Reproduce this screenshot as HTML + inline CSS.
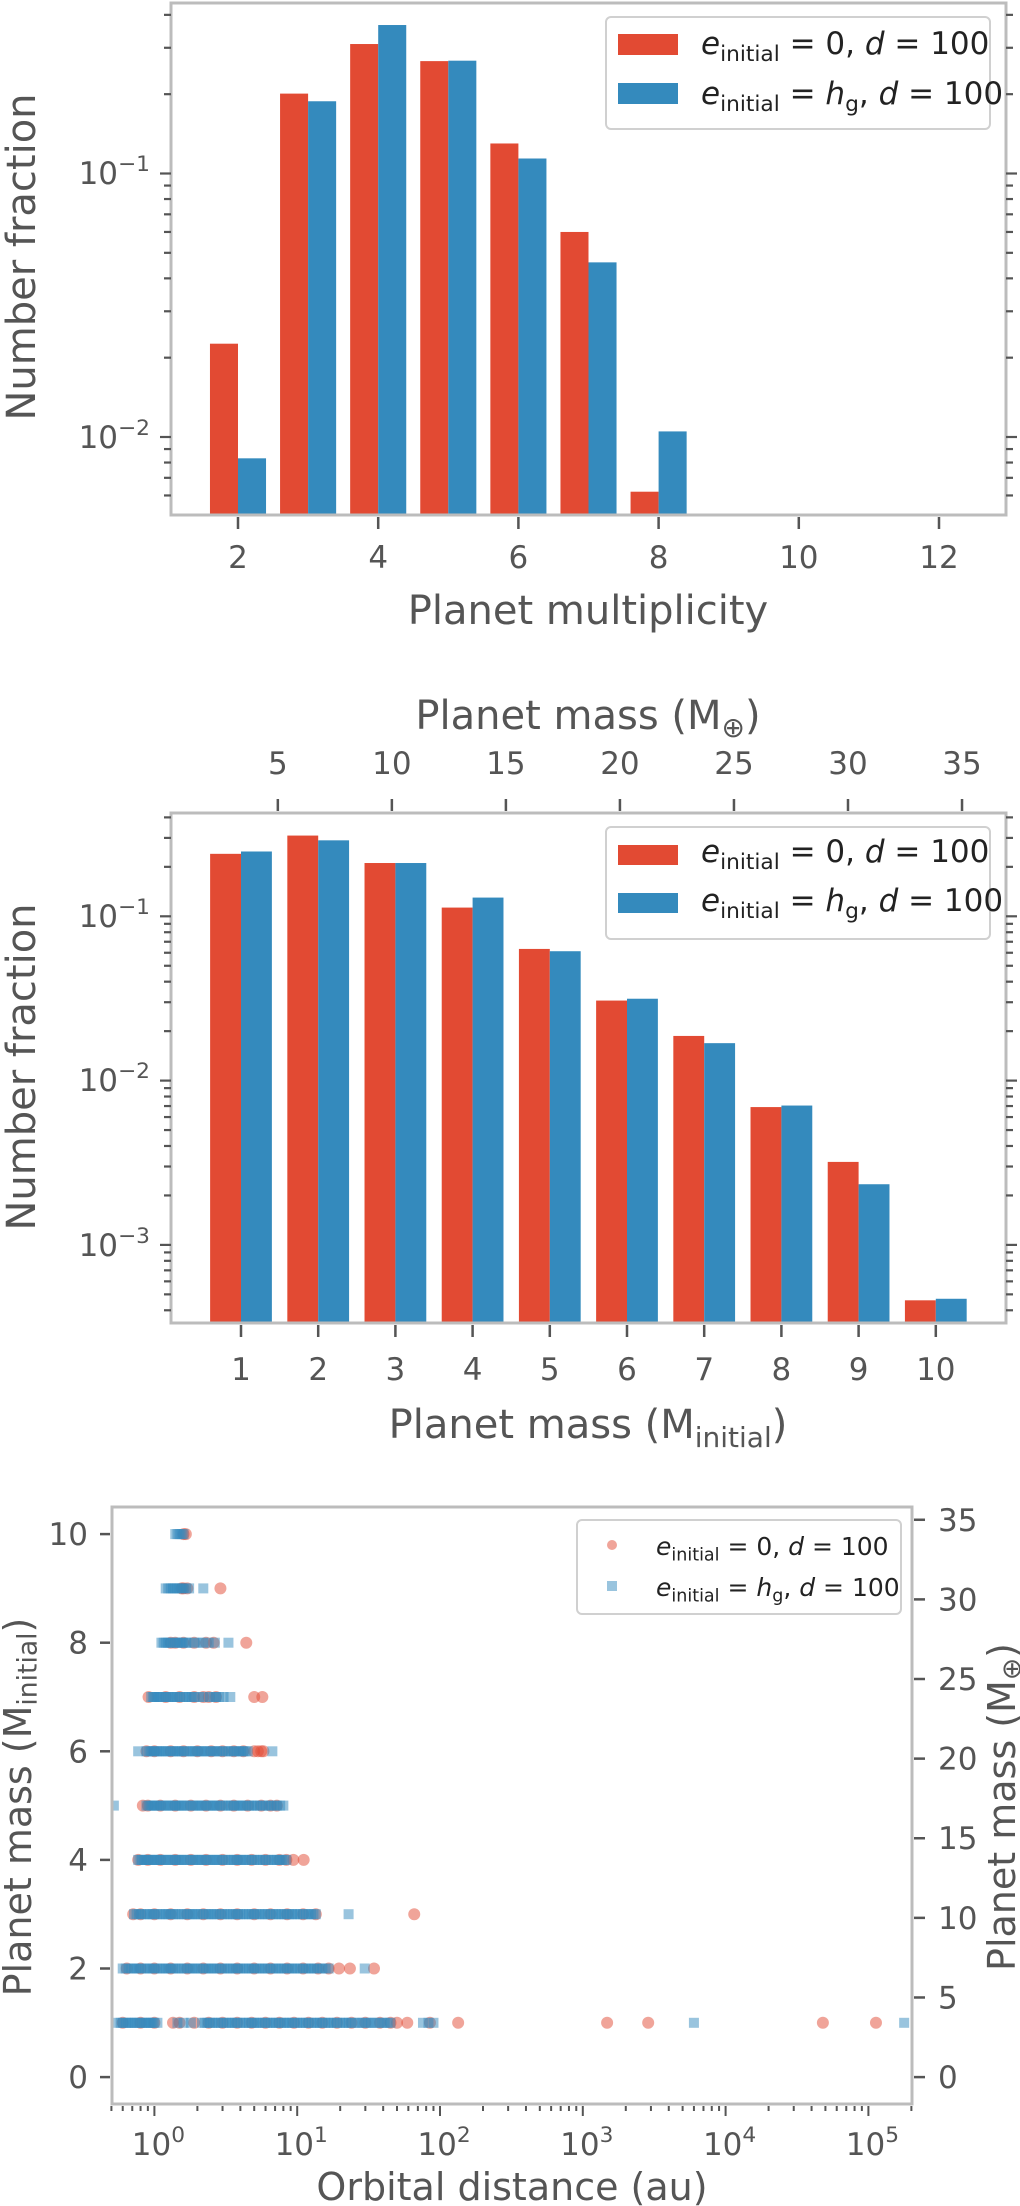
<!DOCTYPE html>
<html><head><meta charset="utf-8">
<style>
html,body{margin:0;padding:0;background:#fff;}
svg{display:block;font-family:"DejaVu Sans","Liberation Sans",sans-serif;}
</style></head>
<body>
<svg id="fig" width="1020" height="2206" viewBox="0 0 1020 2206" xmlns="http://www.w3.org/2000/svg"></svg>
<script>
// ---------- Panel 1 data ----------
const multCats = [2,3,4,5,6,7,8];
const multRed  = [0.0226,0.201,0.310,0.267,0.130,0.060,0.0062];
const multBlue = [0.0083,0.188,0.366,0.268,0.114,0.046,0.0105];
const multTicks = [2,4,6,8,10,12];
// ---------- Panel 2 data ----------
const massCats = [1,2,3,4,5,6,7,8,9,10];
const massRed  = [0.240,0.310,0.211,0.113,0.0633,0.0307,0.0187,0.0069,0.0032,0.00046];
const massBlue = [0.248,0.290,0.211,0.130,0.0613,0.0315,0.0169,0.00705,0.00234,0.00047];
const earthTicks = [5,10,15,20,25,30,35];
const earthPerInitial = 3.385;
// ---------- Panel 3 data (orbital distance in au per mass row) ----------
const scatMass = [10,9,8,7,6,5,4,3,2,1];
const scatRed = [
 [1.6,1.66],
 [1.55,1.6,1.7,2.9],
 [1.3,1.4,1.6,1.9,2.3,2.6,4.4],
 [0.91,1.2,1.5,1.9,2.2,2.4,2.7,5.0,5.7],
 [0.88,1.0,1.3,1.6,2.0,2.5,3.0,3.6,4.2,5.0,5.3,5.6,5.8],
 [0.83,0.9,1.1,1.4,1.8,2.3,2.9,3.6,4.5,5.6,6.5,7.2],
 [0.77,0.9,1.1,1.4,1.8,2.3,3.0,3.8,4.8,6.0,7.5,8.4,9.4,11.1],
 [0.71,0.8,1.0,1.3,1.7,2.2,2.9,3.8,5.0,6.5,8.5,11,13.5,66],
 [0.64,0.8,1.0,1.3,1.7,2.2,2.9,3.8,5.0,6.5,8.5,11,14,16.6,19.6,23.4,34.5],
 [0.6,0.8,1.0,1.35,1.5,1.9,2.4,3.0,3.8,4.8,6.0,7.5,9.5,12,15,19,24,30,38,45,50,59,85,134,1480,2870,48000,113000]
];
const scatBlue = [
 [1.4,1.45,1.5,1.55,1.6],
 [1.2,1.25,1.3,1.35,1.4,1.45,1.5,1.55,1.6,1.67,1.75,2.2],
 [1.12,1.16,1.2,1.25,1.3,1.35,1.4,1.45,1.5,1.55,1.6,1.67,1.75,1.9,2.05,2.2,2.4,2.65,3.3],
 [0.95,0.98,1.0,1.04,1.07,1.11,1.15,1.2,1.25,1.3,1.35,1.4,1.45,1.52,1.6,1.67,1.75,1.82,1.9,2.05,2.2,2.45,2.6,2.7,2.85,3.05,3.4],
 [0.77,0.88,0.91,0.94,0.97,1.0,1.04,1.07,1.11,1.15,1.2,1.25,1.3,1.35,1.4,1.45,1.5,1.55,1.62,1.7,1.77,1.85,1.92,2.0,2.08,2.15,2.25,2.35,2.45,2.55,2.65,2.75,2.87,3.0,3.15,3.3,3.45,3.6,3.75,3.9,4.05,4.2,4.35,4.5,6.7],
 [0.52,0.88,0.91,0.94,0.97,1.0,1.04,1.07,1.11,1.15,1.2,1.25,1.3,1.35,1.4,1.45,1.5,1.55,1.62,1.7,1.77,1.85,1.92,2.0,2.08,2.15,2.25,2.35,2.45,2.55,2.65,2.75,2.87,3.0,3.15,3.3,3.45,3.6,3.75,3.9,4.05,4.2,4.4,4.6,4.8,5.0,5.25,5.5,5.75,6.0,6.3,6.6,6.9,7.2,7.6,8.0],
 [0.77,0.8,0.82,0.85,0.88,0.91,0.94,0.97,1.0,1.04,1.07,1.11,1.15,1.2,1.25,1.3,1.35,1.4,1.45,1.5,1.55,1.62,1.7,1.77,1.85,1.92,2.0,2.08,2.15,2.25,2.35,2.45,2.55,2.65,2.75,2.87,3.0,3.15,3.3,3.45,3.6,3.75,3.9,4.05,4.2,4.4,4.6,4.8,5.0,5.25,5.5,5.75,6.0,6.3,6.6,6.9,7.2,7.5,7.8,8.1,8.4],
 [0.72,0.75,0.78,0.81,0.85,0.89,0.93,0.97,1.0,1.05,1.1,1.15,1.2,1.25,1.3,1.35,1.4,1.47,1.55,1.62,1.7,1.77,1.85,1.92,2.0,2.1,2.2,2.3,2.4,2.5,2.6,2.72,2.85,2.97,3.1,3.25,3.4,3.55,3.7,3.85,4.0,4.2,4.4,4.6,4.8,5.0,5.2,5.45,5.7,5.95,6.2,6.5,6.8,7.1,7.4,7.75,8.1,8.45,8.8,9.2,9.6,10.0,10.5,11.0,11.5,12.0,12.5,13.0,13.5,22.9],
 [0.6,0.63,0.66,0.69,0.72,0.75,0.78,0.81,0.85,0.89,0.93,0.97,1.0,1.05,1.1,1.15,1.2,1.25,1.3,1.35,1.4,1.47,1.55,1.62,1.7,1.77,1.85,1.92,2.0,2.1,2.2,2.3,2.4,2.5,2.6,2.72,2.85,2.97,3.1,3.25,3.4,3.55,3.7,3.85,4.0,4.2,4.4,4.6,4.8,5.0,5.2,5.45,5.7,5.95,6.2,6.5,6.8,7.1,7.4,7.75,8.1,8.45,8.8,9.2,9.6,10.0,10.5,11.0,11.5,12.0,12.5,13.1,13.7,14.3,15.0,15.8,16.6,29.7],
 [0.55,0.58,0.6,0.63,0.65,0.68,0.7,0.73,0.76,0.79,0.82,0.85,0.88,0.91,0.94,0.97,1.0,1.05,1.45,1.6,1.8,2.15,2.25,2.35,2.45,2.55,2.67,2.8,2.92,3.05,3.2,3.35,3.5,3.65,3.8,4.0,4.2,4.4,4.6,4.8,5.0,5.2,5.45,5.7,5.95,6.2,6.5,6.8,7.1,7.4,7.75,8.1,8.45,8.8,9.2,9.6,10.0,10.5,11.0,11.5,12.0,12.6,13.2,13.8,14.4,15.0,15.7,16.5,17.2,18.0,19.0,20.0,21.0,22.0,23.0,24.0,25.5,27.0,28.5,30.0,31.5,33.0,35.0,37.0,39.0,41.0,43.0,45.0,76,83,90,6000,178000]
];
const distTickExps = [0,1,2,3,4,5];
const leftMassTicks = [0,2,4,6,8,10];
const rightEarthTicks = [0,5,10,15,20,25,30,35];

const NS="http://www.w3.org/2000/svg";
const svg=document.getElementById('fig');
const RED='#E24A33', BLUE='#348ABD', TXT='#555555', FRAME='#bcbcbc';
function mk(tag, attrs, parent){const e=document.createElementNS(NS,tag);for(const k in attrs)e.setAttribute(k,attrs[k]);(parent||svg).appendChild(e);return e;}
function line(x1,y1,x2,y2,w,c,p){return mk('line',{x1,y1,x2,y2,stroke:c||TXT,'stroke-width':w||2.5},p);}
function txt(s,x,y,size,anchor,p){const t=mk('text',{x,y,'font-size':size,fill:TXT,'text-anchor':anchor||'middle'},p);t.textContent=s;return t;}
function pow10(x,y,exp,size,anchor,p){const t=mk('text',{x,y,'font-size':size,fill:TXT,'text-anchor':anchor||'end'},p);
 const a=mk('tspan',{},t);a.textContent='10';const b=mk('tspan',{'font-size':size*0.7,dy:-size*0.42},t);b.textContent=exp;return t;}
function legendLabel(x,y,size,second,p){
 const t=mk('text',{x,y,'font-size':size,fill:'#222'},p);
 const e=mk('tspan',{'font-style':'italic'},t);e.textContent='e';
 const s=mk('tspan',{'font-size':size*0.7,dy:size*0.22},t);s.textContent='initial';
 const r=mk('tspan',{dy:-size*0.22},t);
 if(!second){r.textContent=' = 0, ';}else{r.textContent=' = ';const h=mk('tspan',{'font-style':'italic'},t);h.textContent='h';const g=mk('tspan',{'font-size':size*0.7,dy:size*0.22},t);g.textContent='g';const c=mk('tspan',{dy:-size*0.22},t);c.textContent=', ';}
 const d=mk('tspan',{'font-style':'italic'},t);d.textContent='d';
 const q=mk('tspan',{},t);q.textContent=' = 100';return t;}
function rotLabel(parts,cx,cy,size,p){const t=mk('text',{x:0,y:0,'font-size':size,fill:TXT,'text-anchor':'middle','dominant-baseline':'central',transform:`translate(${cx},${cy}) rotate(-90)`},p);
 parts.forEach(pt=>{const s=mk('tspan',pt.sub?{'font-size':size*0.7,dy:size*0.25}:(pt.up?{dy:-size*0.25}:{}),t);s.textContent=pt.t;});return t;}
function logTicksY(ys,x0,x1,lo,hi){
 for(let e=Math.floor(Math.log10(lo));e<=Math.ceil(Math.log10(hi));e++){
  for(let m=1;m<10;m++){const v=m*Math.pow(10,e);if(v<lo||v>hi)continue;const y=ys(v);const L=m===1?11:7;
   line(x0-L,y,x0,y,2.2);line(x1,y,x1+L,y,2.2);}}
}

// ================= Panel 1 =================
(function(){
 const g=mk('g',{});
 
 const L=171,R=1006,T=3,B=515;
 const xs=v=>238+(v-2)*70.1;
 const ys=v=>173.5-(Math.log10(v)+1)*263.5;
 multCats.forEach((c,i)=>{
  const r=mk('rect',{x:xs(c-0.4),y:ys(multRed[i]),width:xs(c)-xs(c-0.4),height:B-ys(multRed[i]),fill:RED},g);
  
  const b=mk('rect',{x:xs(c),y:ys(multBlue[i]),width:xs(c+0.4)-xs(c),height:B-ys(multBlue[i]),fill:BLUE},g);
  
 });
 mk('rect',{x:L,y:T,width:R-L,height:B-T,fill:'none',stroke:FRAME,'stroke-width':3},g);
 multTicks.forEach(t=>{line(xs(t),B+2,xs(t),B+14,2.5,TXT,g);txt(String(t),xs(t),568,31,'middle',g);});
 logTicksY(ys,L,R,0.0051,0.44);
 pow10(150,184,'−1',31,'end',g);pow10(150,448,'−2',31,'end',g);
 const xl=txt('Planet multiplicity',588,624,40,'middle',g);
 const yl=rotLabel([{t:'Number fraction'}],22,257,40,g);
 const lg=mk('g',{},g);
 mk('rect',{x:606,y:17,width:384,height:112,rx:5,fill:'#fff',stroke:'#d0d0d0','stroke-width':2},lg);
 mk('rect',{x:618,y:34,width:60,height:21,fill:RED},lg);
 mk('rect',{x:618,y:83,width:60,height:21,fill:BLUE},lg);
 legendLabel(701,54,31,false,lg);legendLabel(701,104,31,true,lg);
})();

// ================= Panel 2 =================
(function(){
 const g=mk('g',{});
 
 const L=171,R=1006,T=813,B=1323;
 const xs=v=>241+(v-1)*77.2;
 const ys=v=>916.3-(Math.log10(v)+1)*164.3;
 massCats.forEach((c,i)=>{
  const r=mk('rect',{x:xs(c-0.4),y:ys(massRed[i]),width:xs(c)-xs(c-0.4),height:B-ys(massRed[i]),fill:RED},g);
  
  const b=mk('rect',{x:xs(c),y:ys(massBlue[i]),width:xs(c+0.4)-xs(c),height:B-ys(massBlue[i]),fill:BLUE},g);
  
 });
 mk('rect',{x:L,y:T,width:R-L,height:B-T,fill:'none',stroke:FRAME,'stroke-width':3},g);
 massCats.forEach(t=>{line(xs(t),B+2,xs(t),B+14,2.5,TXT,g);txt(String(t),xs(t),1380,31,'middle',g);});
 earthTicks.forEach(t=>{const x=xs(t/earthPerInitial);line(x,T-2,x,T-14,2.5,TXT,g);txt(String(t),x,774,31,'middle',g);});
 logTicksY(ys,L,R,0.00034,0.42);
 pow10(150,927,'−1',31,'end',g);pow10(150,1091,'−2',31,'end',g);pow10(150,1256,'−3',31,'end',g);
 const tl=mk('text',{x:588,y:729,'font-size':40,fill:TXT,'text-anchor':'middle'},g);
 
 const a=mk('tspan',{},tl);a.textContent='Planet mass (M';const b=mk('tspan',{'font-size':28,dy:8},tl);b.textContent='⊕';const c=mk('tspan',{dy:-8},tl);c.textContent=')';
 const xl=mk('text',{x:588,y:1438,'font-size':40,fill:TXT,'text-anchor':'middle'},g);
 
 const d=mk('tspan',{},xl);d.textContent='Planet mass (M';const e=mk('tspan',{'font-size':28,dy:9},xl);e.textContent='initial';const f=mk('tspan',{dy:-9},xl);f.textContent=')';
 const yl=rotLabel([{t:'Number fraction'}],22,1067,40,g);
 const lg=mk('g',{},g);
 mk('rect',{x:606,y:827,width:384,height:112,rx:5,fill:'#fff',stroke:'#d0d0d0','stroke-width':2},lg);
 mk('rect',{x:618,y:845,width:60,height:20,fill:RED},lg);
 mk('rect',{x:618,y:893,width:60,height:20,fill:BLUE},lg);
 legendLabel(701,862,31,false,lg);legendLabel(701,911,31,true,lg);
})();

// ================= Panel 3 =================
(function(){
 const g=mk('g',{});
 
 const L=112,R=912,T=1507,B=2104;
 const xs=d=>154.4+Math.log10(d)*142.8;
 const ys=m=>2077.1-m*54.3;
 const defs=mk('defs',{},g);const cp=mk('clipPath',{id:'clip3'},defs);mk('rect',{x:L,y:T,width:R-L,height:B-T},cp);
 const pts=mk('g',{'clip-path':'url(#clip3)'},g);
 scatMass.forEach((m,i)=>{scatRed[i].forEach(d=>{const c=mk('circle',{cx:xs(d),cy:ys(m),r:6,fill:RED,'fill-opacity':0.5},pts);
   });});
 scatMass.forEach((m,i)=>{scatBlue[i].forEach(d=>{const s=mk('rect',{x:xs(d)-5,y:ys(m)-5,width:10,height:10,fill:BLUE,'fill-opacity':0.5},pts);
   });});
 mk('rect',{x:L,y:T,width:R-L,height:B-T,fill:'none',stroke:FRAME,'stroke-width':3},g);
 leftMassTicks.forEach(m=>{line(L-12,ys(m),L-2,ys(m),2.5,TXT,g);txt(String(m),88,ys(m)+11,31,'end',g);});
 rightEarthTicks.forEach(m=>{const y=ys(m/3.41);line(R+2,y,R+13,y,2.5,TXT,g);txt(String(m),938,y+11,31,'start',g);});
 for(let e=-1;e<=5;e++){for(let k=1;k<10;k++){const v=k*Math.pow(10,e);if(v<0.5||v>2.0e5)continue;const x=xs(v);line(x,B+2,x,B+(k===1?12:7),2,TXT,g);}}
 distTickExps.forEach(e=>{pow10(xs(Math.pow(10,e))+4,2155,String(e),31,'middle',g);});
 const xl=txt('Orbital distance (au)',512,2200,38,'middle',g);
 const yl=rotLabel([{t:'Planet mass (M'},{t:'initial',sub:true},{t:')',up:true}],18,1807,38,g);
 const yr=rotLabel([{t:'Planet mass (M'},{t:'⊕',sub:true},{t:')',up:true}],1002,1807,38,g);
 const lg=mk('g',{},g);
 mk('rect',{x:577,y:1520,width:324,height:94,rx:5,fill:'#fff',stroke:'#d0d0d0','stroke-width':2},lg);
 mk('circle',{cx:612,cy:1545,r:5,fill:RED,'fill-opacity':0.5},lg);
 mk('rect',{x:607,y:1581,width:10,height:10,fill:BLUE,'fill-opacity':0.5},lg);
 legendLabel(656,1555,25,false,lg);legendLabel(656,1596,25,true,lg);
})();
</script>
</body></html>
